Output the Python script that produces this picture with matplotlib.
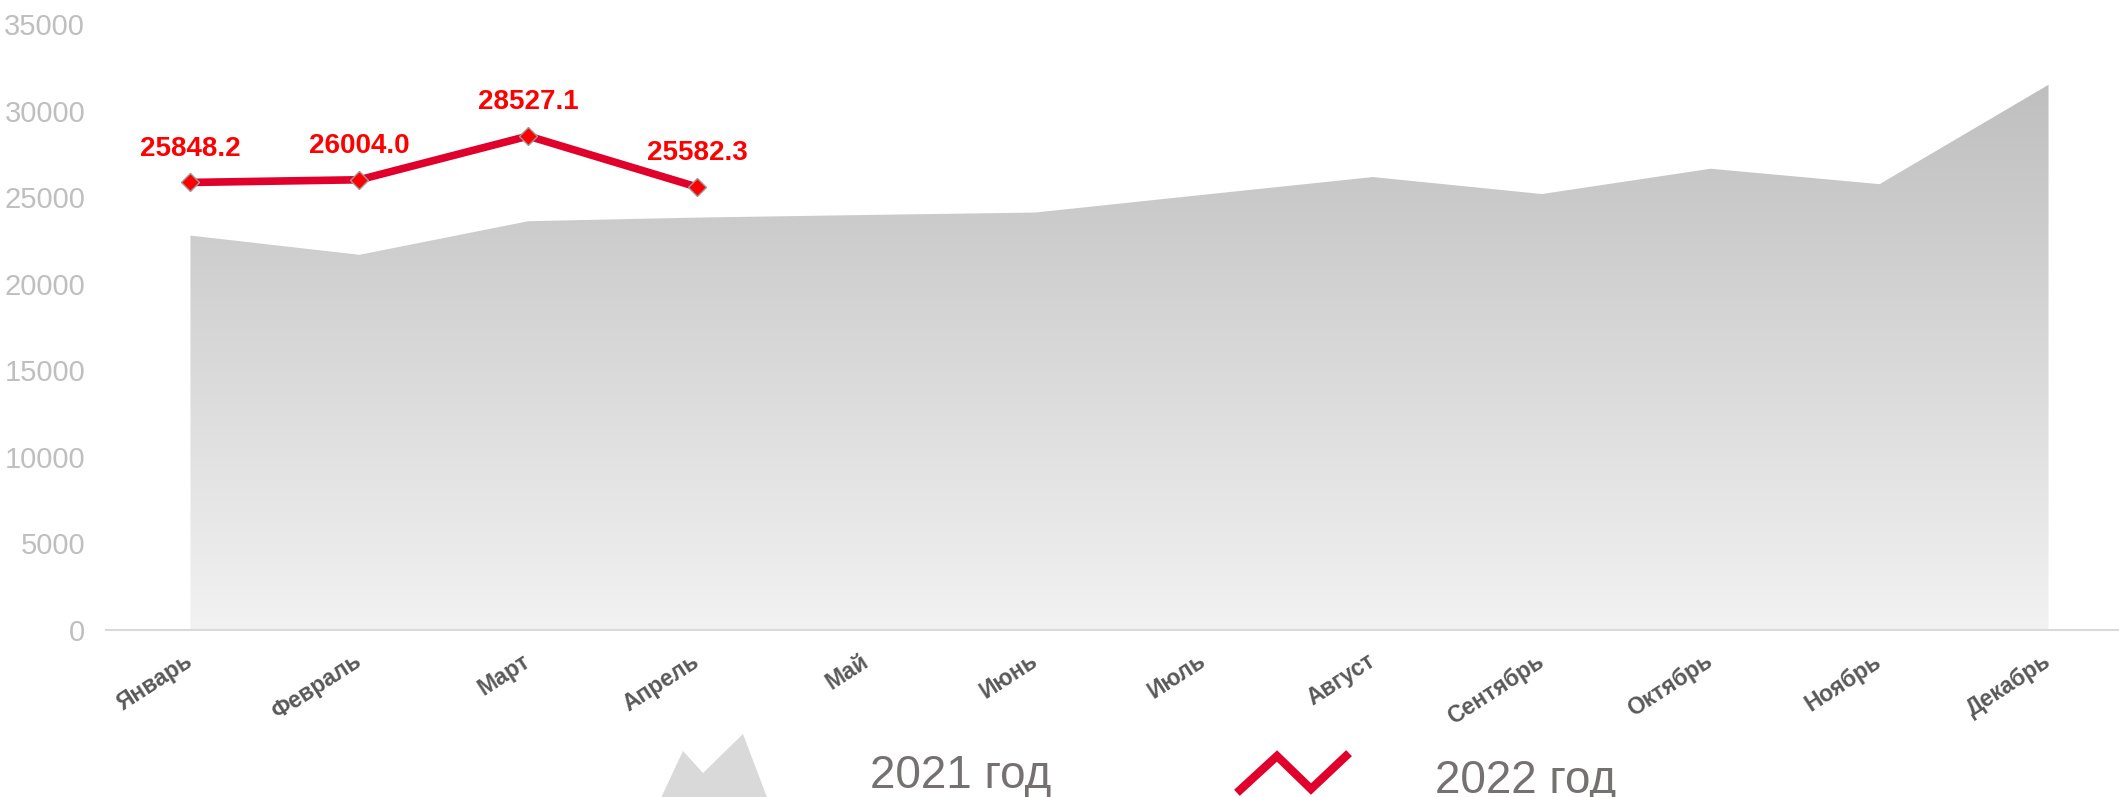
import numpy as np
import matplotlib
matplotlib.use("Agg")
import matplotlib.pyplot as plt
import matplotlib.transforms as mtransforms
from matplotlib.colors import LinearSegmentedColormap
from matplotlib.patches import Polygon
from matplotlib.lines import Line2D

plt.rcParams['font.family'] = ['Liberation Sans', 'DejaVu Sans']

months = ['Январь', 'Февраль', 'Март', 'Апрель', 'Май', 'Июнь',
          'Июль', 'Август', 'Сентябрь', 'Октябрь', 'Ноябрь', 'Декабрь']
values_2021 = [22780, 21670, 23610, 23820, 23970, 24110,
               25140, 26160, 25180, 26640, 25750, 31490]
values_2022 = [25848.2, 26004.0, 28527.1, 25582.3]
labels_2022 = ['25848.2', '26004.0', '28527.1', '25582.3']
y_ticks = [0, 5000, 10000, 15000, 20000, 25000, 30000, 35000]
legend_labels = ['2021 год', '2022 год']

W, H = 2119, 797
fig = plt.figure(figsize=(W / 100, H / 100), dpi=100)
ax = fig.add_axes([106 / W, 167 / H, (2133 - 106) / W, (630 - 24) / H])

x = np.arange(len(months))
x22 = np.arange(len(values_2022))

# 2021 area with vertical gradient
poly = ax.fill_between(x, 0, values_2021, facecolor='none', edgecolor='none')
cmap = LinearSegmentedColormap.from_list('g', ['#f2f2f2', '#bfbfbf'])
grad = np.linspace(0, 1, 256).reshape(-1, 1)
top = max(values_2021)
im = ax.imshow(grad, cmap=cmap, origin='lower', aspect='auto',
               extent=[x[0], x[-1], 0, top], zorder=1)
path = poly.get_paths()[0]
im.set_clip_path(path, transform=ax.transData)

# 2022 line
ax.plot(x22, values_2022, color='#e0002b', lw=5.5, zorder=3,
        marker='D', markersize=9, markerfacecolor='#ff0000',
        markeredgecolor='#9a9a9a', markeredgewidth=1)
for xi, v, s in zip(x22, values_2022, labels_2022):
    ax.annotate(s, (xi, v), xytext=(0, 15), textcoords='offset points',
                ha='center', va='bottom', color='#ff0000',
                fontsize=20, fontweight='bold', zorder=4)

ax.set_xlim(-0.5, 11.5)
ax.set_ylim(0, 35000)
ax.set_yticks(y_ticks)
ax.set_yticklabels([str(t) for t in y_ticks], color='#bfbfbf', fontsize=21)
ax.set_xticks(x)
ax.set_xticklabels(months, rotation=33, ha='right', va='center',
                   rotation_mode='anchor', color='#595959',
                   fontsize=16.5, fontweight='bold')
shift = mtransforms.ScaledTranslation(10 / 100, 0, fig.dpi_scale_trans)
for lbl in ax.get_xticklabels():
    lbl.set_transform(lbl.get_transform() + shift)
ax.tick_params(axis='y', length=0, pad=15)
ax.tick_params(axis='x', length=0, pad=21)
for s in ['left', 'right', 'top']:
    ax.spines[s].set_visible(False)
ax.spines['bottom'].set_color('#d9d9d9')
ax.spines['bottom'].set_linewidth(1.5)
ax.spines['bottom'].set_zorder(5)

# legend (drawn in figure pixels)
def fp(px, py):
    return (px / W, 1 - py / H)

mountain = [fp(660, 800), fp(683, 751), fp(703, 773), fp(743, 734), fp(768, 800)]
fig.patches.append(Polygon(mountain, closed=True, facecolor='#d9d9d9',
                           edgecolor='none', transform=fig.transFigure))
zz = [fp(1240, 790), fp(1277, 756), fp(1311, 789), fp(1346, 756)]
fig.lines.append(Line2D([p[0] for p in zz], [p[1] for p in zz],
                        color='#e0002b', lw=6, solid_joinstyle='miter',
                        transform=fig.transFigure))
fig.text(870 / W, 1 - 788 / H, legend_labels[0], fontsize=33,
         color='#767171', ha='left', va='baseline')
fig.text(1435 / W, 1 - 793 / H, legend_labels[1], fontsize=33,
         color='#767171', ha='left', va='baseline')

fig.savefig('out.png', dpi=100)
